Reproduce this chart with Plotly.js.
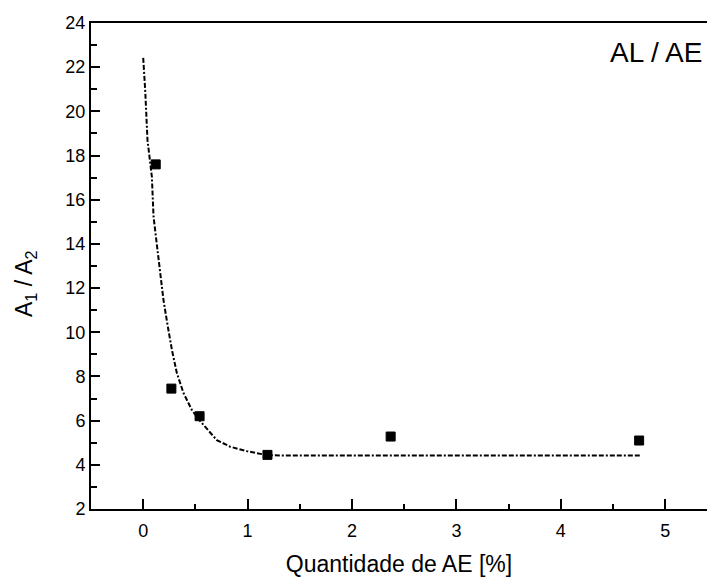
<!DOCTYPE html>
<html>
<head>
<meta charset="utf-8">
<script src="https://cdn.plot.ly/plotly-3.0.1.min.js"></script>
<style>html,body{margin:0;padding:0;background:#fff;}#chart{width:707px;height:577px;}</style>
</head>
<body>
<div id="chart"></div>
<script>
// measured points
const dataX = [0.12, 0.27, 0.54, 1.19, 2.37, 4.75];
const dataY = [17.6, 7.45, 6.2, 4.45, 5.28, 5.1];
// fitted curve
const fitX = [0, 0.019, 0.041, 0.067, 0.083, 0.099, 0.124, 0.156, 0.194, 0.236, 0.275, 0.322, 0.386, 0.466, 0.545, 0.705, 0.833, 0.992, 1.184, 1.34, 4.756];
const fitY = [22.42, 20.97, 18.7, 17.66, 17.04, 15.23, 14.18, 12.82, 11.46, 10.25, 9.2, 8.16, 7.25, 6.48, 5.98, 5.12, 4.82, 4.62, 4.44, 4.42, 4.42];
const xTickVals = [0, 1, 2, 3, 4, 5];
const yTickVals = [2, 4, 6, 8, 10, 12, 14, 16, 18, 20, 22, 24];
const labelText = "AL / AE";
const xTitle = "Quantidade de AE [%]";
const yTitle = "A<sub>1</sub> / A<sub>2</sub>";

const font = "Liberation Sans, Arial, sans-serif";
const traces = [
  {x: fitX, y: fitY, mode: "lines", type: "scatter",
   line: {color: "#000", width: 2, dash: "5px,2px,5px,2px,2px,2px"}, hoverinfo: "none"},
  {x: dataX, y: dataY, mode: "markers", type: "scatter",
   marker: {symbol: "square", size: 9, color: "#000", line: {color: "#000", width: 1}}}
];
const layout = {
  width: 707, height: 577,
  margin: {l: 91, r: 0, t: 23, b: 68, pad: 0},
  showlegend: false,
  paper_bgcolor: "#fff", plot_bgcolor: "#fff",
  font: {family: font, color: "#000", size: 18},
  xaxis: {
    range: [-0.5, 5.4], tickvals: xTickVals, ticks: "inside", ticklen: 10, tickwidth: 2,
    tickcolor: "#000", showline: true, linecolor: "#000", linewidth: 2, mirror: true,
    showgrid: false, zeroline: false, tickfont: {size: 18, family: font, color: "#000"},
    ticklabelstandoff: 4,
    minor: {dtick: 0.5, ticks: "inside", ticklen: 5, tickwidth: 2, tickcolor: "#000", showgrid: false},
    title: {text: xTitle, font: {size: 23, family: font, color: "#000"}, standoff: 16}
  },
  yaxis: {
    range: [2, 24], tickvals: yTickVals, ticks: "inside", ticklen: 9, tickwidth: 2,
    tickcolor: "#000", showline: true, linecolor: "#000", linewidth: 2, mirror: false,
    showgrid: false, zeroline: false, tickfont: {size: 18, family: font, color: "#000"},
    minor: {dtick: 1, ticks: "inside", ticklen: 6, tickwidth: 2, tickcolor: "#000", showgrid: false}
  },
  annotations: [{
    text: labelText, xref: "paper", yref: "paper", x: 1, y: 0.975,
    xanchor: "right", yanchor: "top", xshift: -3, showarrow: false,
    font: {size: 28, family: font, color: "#000"}
  }, {
    text: yTitle, xref: "paper", yref: "paper", x: 0, y: 0.463,
    xanchor: "center", yanchor: "middle", xshift: -65, textangle: -90, showarrow: false,
    font: {size: 23, family: font, color: "#000"}
  }]
};
Plotly.newPlot("chart", traces, layout, {displayModeBar: false, staticPlot: true});
</script>
</body>
</html>
